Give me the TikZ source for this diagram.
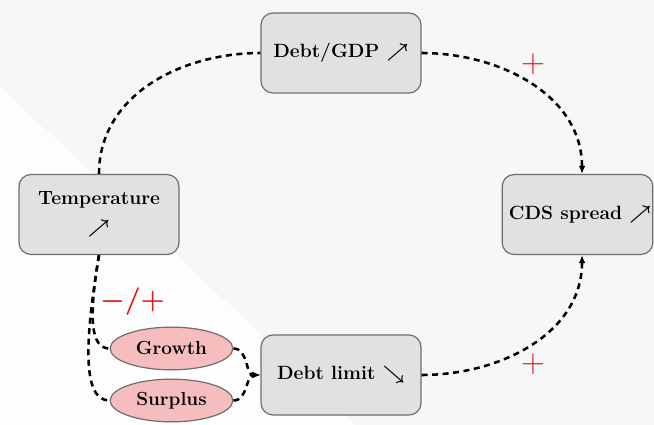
\documentclass[tikz,border=0pt]{standalone}
\usetikzlibrary{arrows.meta,shapes.geometric}
\definecolor{bgcol}{HTML}{F7F7F7}
\definecolor{bglight}{HTML}{FDFDFD}
\definecolor{boxfill}{HTML}{E1E1E1}
\definecolor{boxline}{HTML}{6E6E6E}
\definecolor{pinkfill}{HTML}{F5BDBD}
\definecolor{signred}{HTML}{E8141C}
\begin{document}
\begin{tikzpicture}[x=0.75pt,y=-0.75pt,
  box/.style={draw=boxline,fill=boxfill,line width=0.9pt,rounded corners=9pt,
    minimum width=120pt,minimum height=60pt,inner sep=0pt,align=center,
    font=\fontsize{14.4}{17}\selectfont\bfseries\boldmath},
  oval/.style={ellipse,draw=boxline,fill=pinkfill,line width=0.9pt,
    minimum width=92pt,minimum height=32pt,inner sep=0pt,
    font=\fontsize{14.2}{17}\selectfont\bfseries},
  link/.style={line width=1.9pt,dash pattern=on 4.5pt off 3.4pt},
  tip/.style={-{Latex[length=6pt,width=5pt]}},
  sign/.style={text=signred,inner sep=0pt,font=\fontsize{28}{28}\selectfont}
]
\useasboundingbox (0,0) rectangle (654,425);
% backdrop with a lighter lower-left wedge
\fill[bgcol] (0,0) rectangle (654,425);
\fill[bglight] (0,86) -- (355,425) -- (0,425) -- cycle;

% boxes
\node[box] (gdp) at (341,53) {Debt/GDP $\nearrow$};
\node[box] (temp) at (99,214.5) {Temperature\\[5pt]$\nearrow$};
\node[box,minimum width=113pt] (cds) at (577.5,214.5) {\hspace*{4pt}CDS spread $\nearrow$};
\node[box] (lim) at (341,375) {Debt limit $\searrow$};
\node[oval] (gro) at (171.5,348.5) {Growth};
\node[oval] (sur) at (171.5,400.5) {Surplus};

% connectors
\draw[link] (temp.north) to[out=90,in=180] (gdp.west);
\draw[link,tip] (gdp.east) to[out=0,in=90] ([xshift=3.4pt]cds.north);
\draw[link,tip] (lim.east) to[out=0,in=-90] ([xshift=3.4pt]cds.south);
\draw[link] (temp.south) .. controls +(-10,60) and +(-20,0) .. (gro.west);
\draw[link] (temp.south) .. controls +(-14,85) and +(-28,0) .. (sur.west);
\draw[link,tip] (gro.east) to[out=0,in=180] (lim.west);
\draw[link,tip] (sur.east) to[out=0,in=180] (lim.west);

% signs
\node[sign] (p1) at (533,64) {$+$};
\node[sign] (p2) at (533,364) {$+$};
\node[sign,font=\fontsize{22.5}{22.5}\selectfont\boldmath] (pm) at (132.5,302) {$-/+$};
\end{tikzpicture}
\end{document}
